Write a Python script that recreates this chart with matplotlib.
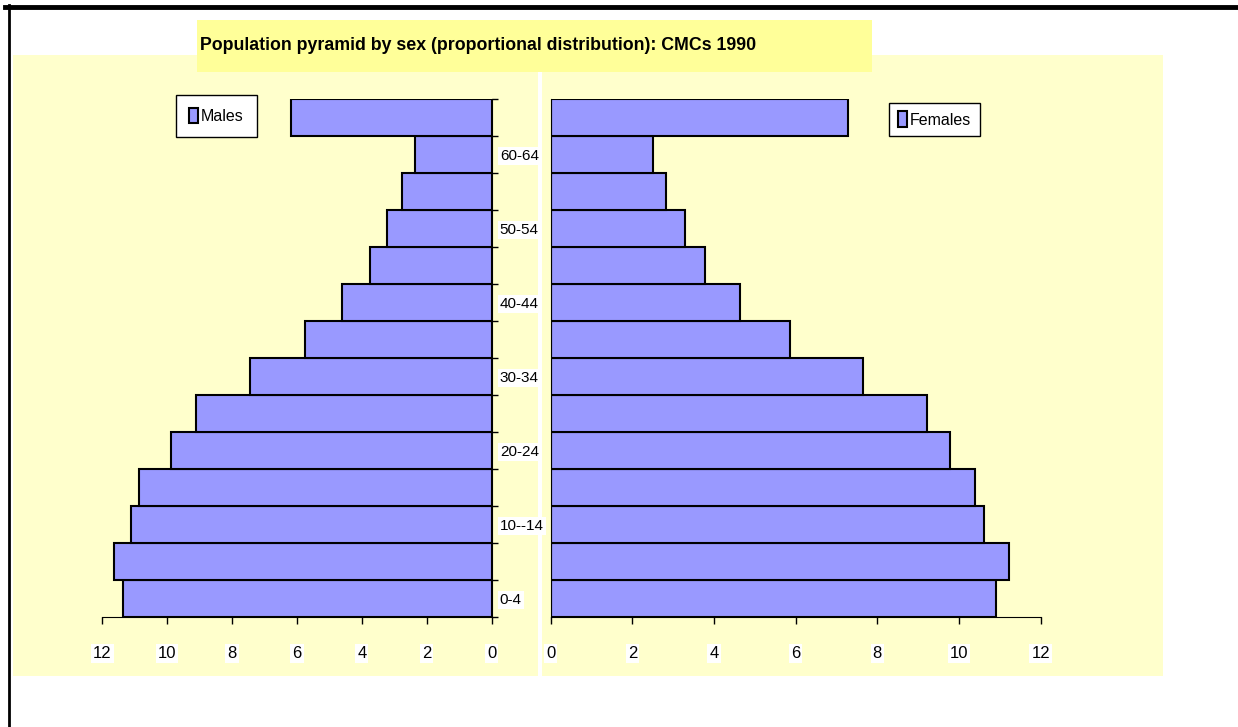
import numpy as np
import matplotlib
matplotlib.use('Agg')
import matplotlib.pyplot as plt
from matplotlib.patches import Rectangle
from matplotlib.lines import Line2D

plt.rcParams['font.family'] = ['Liberation Sans Narrow', 'Liberation Sans', 'DejaVu Sans']

# age groups from youngest to oldest
age_groups = ['0-4', '5-9', '10--14', '15-19', '20-24', '25-29', '30-34',
              '35-39', '40-44', '45-49', '50-54', '55-59', '60-64', '65+']
males = [11.36, 11.63, 11.13, 10.86, 9.87, 9.12, 7.45,
         5.75, 4.62, 3.75, 3.22, 2.77, 2.36, 6.18]
females = [10.90, 11.23, 10.62, 10.39, 9.78, 9.22, 7.64,
           5.86, 4.63, 3.79, 3.28, 2.82, 2.51, 7.27]
x_ticks = [0, 2, 4, 6, 8, 10, 12]
title = 'Population pyramid by sex (proportional distribution): CMCs 1990'

W, H = 1238, 727
bar_color = '#9999FF'
panel_color = '#FFFFCC'


def box(x0, y0, x1, y1):
    # pixel box (top-left origin) -> figure fraction rect
    return [x0 / W, 1 - y1 / H, (x1 - x0) / W, (y1 - y0) / H]


fig = plt.figure(figsize=(W / 100, H / 100), dpi=100)
fig.patch.set_facecolor('white')

# background panels and frame
for x0, x1 in [(13, 538), (542, 1163)]:
    r = box(x0, 55, x1, 676)
    fig.add_artist(Rectangle((r[0], r[1]), r[2], r[3], transform=fig.transFigure,
                             facecolor=panel_color, edgecolor='none', zorder=0))
r = box(197, 20, 872, 72)
fig.add_artist(Rectangle((r[0], r[1]), r[2], r[3], transform=fig.transFigure,
                         facecolor='#FFFF99', edgecolor='none', zorder=1))
fig.add_artist(Line2D([5 / W, 1], [1 - 7 / H, 1 - 7 / H], transform=fig.transFigure,
                      color='black', lw=3.5))
fig.add_artist(Line2D([9 / W, 9 / W], [0, 1 - 5 / H], transform=fig.transFigure,
                      color='black', lw=2))

fig.text(200 / W, 1 - 46 / H, title, fontsize=12.8, fontweight='bold',
         ha='left', va='center', zorder=2)

ypos = np.arange(len(age_groups))

axL = fig.add_axes(box(102.3, 99, 491.5, 617))
axR = fig.add_axes(box(550.7, 99, 1040.7, 617))

barsL = axL.barh(ypos, males, height=1.0, color=bar_color, edgecolor='black',
                 linewidth=1.5, label='Males')
barsR = axR.barh(ypos, females, height=1.0, color=bar_color, edgecolor='black',
                 linewidth=1.5, label='Females')

for ax in (axL, axR):
    ax.set_facecolor('none')
    ax.set_ylim(-0.5, len(age_groups) - 0.5)
    ax.set_xticks(x_ticks)
    ax.set_xticklabels([str(t) for t in x_ticks])
    ax.tick_params(axis='x', direction='out', length=5, width=1, pad=16,
                   labelsize=12, colors='black')
    for t in ax.get_xticklabels():
        t.set_bbox(dict(facecolor='white', edgecolor='none', pad=1.5))
    ax.spines['top'].set_visible(False)

axL.set_xlim(12, 0)
axR.set_xlim(0, 12)

axL.spines['left'].set_visible(False)
axL.yaxis.tick_right()
axL.set_yticks(np.arange(-0.5, len(age_groups), 1))
axL.set_yticklabels([])
axL.set_yticks(ypos[::2], minor=True)
axL.set_yticklabels(age_groups[::2], minor=True)
axL.tick_params(axis='y', which='major', direction='out', length=4, width=1)
axL.tick_params(axis='y', which='minor', length=0, pad=6, labelsize=11)
for t in axL.get_yticklabels(minor=True):
    t.set_bbox(dict(facecolor='white', edgecolor='none', pad=1.5))

axR.spines['right'].set_visible(False)
axR.set_yticks([])

legend_kw = dict(loc='center', bbox_transform=fig.transFigure, fancybox=False,
                 framealpha=1, edgecolor='black', fontsize=11.5, handlelength=0.55,
                 handleheight=1.1, handletextpad=0.2)
legL = axL.legend(handles=[barsL], bbox_to_anchor=(216.5 / W, 1 - 116 / H),
                  borderpad=0.8, **legend_kw)
legR = axR.legend(handles=[barsR], bbox_to_anchor=(934.5 / W, 1 - 119.5 / H),
                  borderpad=0.55, **legend_kw)
for leg in (legL, legR):
    leg.get_frame().set_linewidth(1)

fig.savefig('out.png', dpi=100)
